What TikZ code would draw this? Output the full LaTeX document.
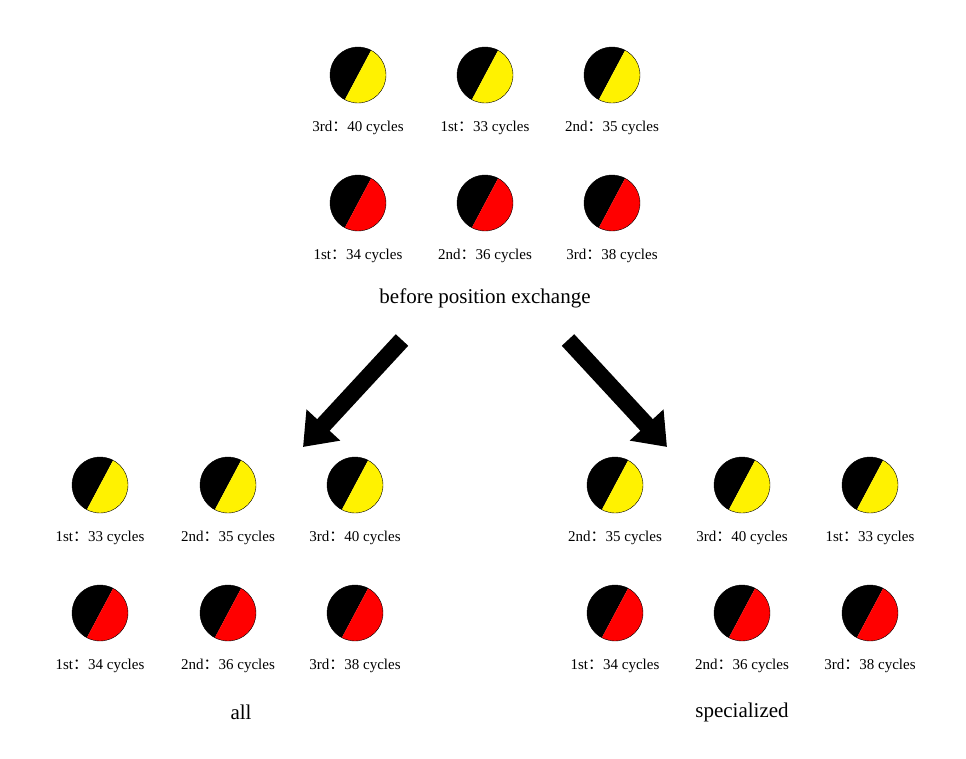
\documentclass[tikz,border=0pt]{standalone}
\usepackage{fontspec}
\setmainfont{Liberation Serif}
\newfontfamily\cjk{Noto Sans CJK SC}
\usetikzlibrary{arrows.meta}
\newcommand{\cl}{{\cjk ：}}
% one two-coloured disc with its label below
\newcommand{\coin}[5]{%
  \fill[black] (#2,#3) ++(298:28) arc (298:118:28) -- cycle;
  \fill[#4] (#2,#3) ++(118:28) arc (118:-62:28) -- cycle;
  \draw[line width=0.4pt] (#2,#3) circle (28);
  \node (#1) [lbl] at (#2,#3+53) {#5};}
\begin{document}
\begin{tikzpicture}[x=1pt,y=-1pt,
lbl/.style={font=\fontsize{15}{17}\selectfont,inner sep=0pt},
big/.style={font=\fontsize{21}{24}\selectfont,inner sep=0pt},
fat/.style={line width=17pt,-{Triangle[length=30pt,width=44pt]}}]
\useasboundingbox (0,0) rectangle (966,758);
\coin{ta}{358}{75}{yellow}{3rd\cl 40 cycles}
\coin{tb}{485}{75}{yellow}{1st\cl 33 cycles}
\coin{tc}{612}{75}{yellow}{2nd\cl 35 cycles}
\coin{ra}{358}{203}{red}{1st\cl 34 cycles}
\coin{rb}{485}{203}{red}{2nd\cl 36 cycles}
\coin{rc}{612}{203}{red}{3rd\cl 38 cycles}
\node (before) [big] at (485,298) {before position exchange};
\coordinate (ls) at (402,340);
\coordinate (le) at (303,447);
\coordinate (rs) at (568,340);
\coordinate (re) at (667,447);
\draw[fat] (ls) -- (le);
\draw[fat] (rs) -- (re);
\coin{la}{100}{485}{yellow}{1st\cl 33 cycles}
\coin{lb}{228}{485}{yellow}{2nd\cl 35 cycles}
\coin{lc}{355}{485}{yellow}{3rd\cl 40 cycles}
\coin{lr1}{100}{613}{red}{1st\cl 34 cycles}
\coin{lr2}{228}{613}{red}{2nd\cl 36 cycles}
\coin{lr3}{355}{613}{red}{3rd\cl 38 cycles}
\node (all) [big] at (241,712) {all};
\coin{sa}{615}{485}{yellow}{2nd\cl 35 cycles}
\coin{sb}{742}{485}{yellow}{3rd\cl 40 cycles}
\coin{sc}{870}{485}{yellow}{1st\cl 33 cycles}
\coin{sr1}{615}{613}{red}{1st\cl 34 cycles}
\coin{sr2}{742}{613}{red}{2nd\cl 36 cycles}
\coin{sr3}{870}{613}{red}{3rd\cl 38 cycles}
\node (spec) [big] at (742,712) {specialized};
\end{tikzpicture}
\end{document}
